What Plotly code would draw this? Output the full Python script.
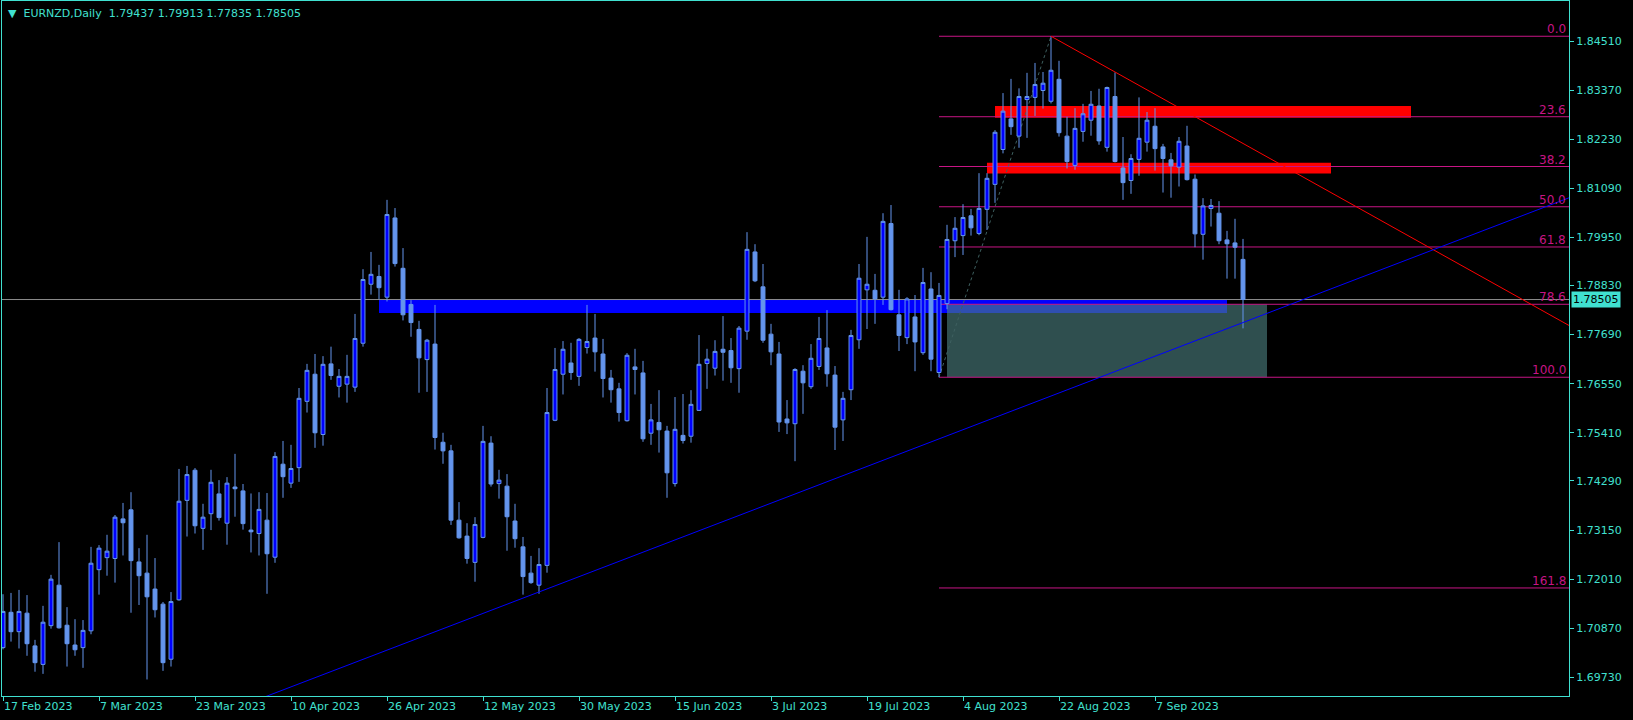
import plotly.graph_objects as go
import pandas as pd

symbol = "EURNZD"
timeframe = "Daily"

opens = [1.7042, 1.7124, 1.7079, 1.7122, 1.7046, 1.7003, 1.7093, 1.7187, 1.7094, 1.7048,
         1.7042, 1.7081, 1.7223, 1.7251, 1.7249, 1.7341, 1.7362, 1.7241, 1.7215, 1.7178,
         1.7143, 1.7015, 1.7153, 1.7384, 1.7454, 1.7319, 1.7353, 1.7399, 1.7331, 1.7415,
         1.7406, 1.7315, 1.7307, 1.7338, 1.7252, 1.7468, 1.7424, 1.7460, 1.7614, 1.7677,
         1.7537, 1.7701, 1.7649, 1.7654, 1.7647, 1.7749, 1.7886, 1.7904, 1.7856, 1.8040,
         1.7923, 1.7839, 1.7781, 1.7711, 1.7747, 1.7519, 1.7499, 1.7338, 1.7301, 1.7240,
         1.7298, 1.7517, 1.7423, 1.7417, 1.7336, 1.7276, 1.7215, 1.7187, 1.7233, 1.7570,
         1.7677, 1.7703, 1.7672, 1.7739, 1.7761, 1.7724, 1.7668, 1.7643, 1.7569, 1.7694,
         1.7680, 1.7540, 1.7565, 1.7545, 1.7423, 1.7535, 1.7533, 1.7593, 1.7702, 1.7691,
         1.7735, 1.7732, 1.7690, 1.7777, 1.7961, 1.7880, 1.7770, 1.7724, 1.7573, 1.7562,
         1.7684, 1.7648, 1.7695, 1.7738, 1.7675, 1.7571, 1.7641, 1.7757, 1.7873, 1.7872,
         1.7856, 1.8027, 1.7815, 1.7762, 1.7810, 1.7727, 1.7875, 1.7681, 1.7841, 1.7987,
         1.7999, 1.8045, 1.8004, 1.8060, 1.8118, 1.8199, 1.8270, 1.8230, 1.8315, 1.8320,
         1.8336, 1.8311, 1.8362, 1.8230, 1.8162, 1.8241, 1.8267, 1.8300, 1.8204, 1.8322,
         1.8156, 1.8127, 1.8176, 1.8216, 1.8253, 1.8205, 1.8175, 1.8158, 1.8207, 1.8130,
         1.8002, 1.8062, 1.8051, 1.7989, 1.7982, 1.79437]

highs = [1.7166, 1.7169, 1.7176, 1.7164, 1.7060, 1.7139, 1.7211, 1.7287, 1.7136, 1.7108,
         1.7106, 1.7276, 1.7280, 1.7304, 1.7350, 1.7378, 1.7403, 1.7273, 1.7304, 1.7250,
         1.7148, 1.7171, 1.7457, 1.7464, 1.7459, 1.7376, 1.7455, 1.7431, 1.7438, 1.7492,
         1.7422, 1.7400, 1.7403, 1.7401, 1.7496, 1.7522, 1.7513, 1.7645, 1.7701, 1.7724,
         1.7719, 1.7741, 1.7689, 1.7722, 1.7817, 1.7921, 1.7961, 1.7931, 1.8082, 1.8063,
         1.7970, 1.7849, 1.7801, 1.7759, 1.7838, 1.7541, 1.7513, 1.7380, 1.7331, 1.7345,
         1.7557, 1.7533, 1.7455, 1.7445, 1.7376, 1.7299, 1.7255, 1.7273, 1.7645, 1.7738,
         1.7754, 1.7750, 1.7761, 1.7838, 1.7817, 1.7759, 1.7687, 1.7657, 1.7726, 1.7736,
         1.7708, 1.7608, 1.7640, 1.7557, 1.7624, 1.7631, 1.7640, 1.7768, 1.7736, 1.7756,
         1.7812, 1.7761, 1.7789, 1.8007, 1.7979, 1.7933, 1.7794, 1.7752, 1.7617, 1.7691,
         1.7698, 1.7747, 1.7810, 1.7826, 1.7696, 1.7636, 1.7780, 1.7933, 1.7996, 1.7910,
         1.8051, 1.8070, 1.7873, 1.7856, 1.7861, 1.7924, 1.7914, 1.7889, 1.8024, 1.8042,
         1.8072, 1.8061, 1.8144, 1.8144, 1.8244, 1.8330, 1.8363, 1.8341, 1.8377, 1.8400,
         1.8379, 1.8462, 1.8405, 1.8275, 1.8295, 1.8305, 1.8335, 1.8340, 1.8345, 1.8378,
         1.8228, 1.8188, 1.8320, 1.8286, 1.8295, 1.8212, 1.8191, 1.8228, 1.8254, 1.8141,
         1.8086, 1.8084, 1.8079, 1.8010, 1.8038, 1.79913]

lows = [1.7038, 1.7056, 1.7040, 1.7023, 1.6986, 1.6981, 1.7086, 1.7086, 1.6998, 1.7023,
        1.6995, 1.7073, 1.7165, 1.7209, 1.7193, 1.7256, 1.7123, 1.7141, 1.6968, 1.7112,
        1.6988, 1.6998, 1.7151, 1.7300, 1.7307, 1.7269, 1.7315, 1.7337, 1.7281, 1.7346,
        1.7316, 1.7263, 1.7256, 1.7167, 1.7239, 1.7390, 1.7413, 1.7427, 1.7588, 1.7506,
        1.7511, 1.7664, 1.7623, 1.7611, 1.7636, 1.7741, 1.7862, 1.7851, 1.7846, 1.7927,
        1.7802, 1.7764, 1.7634, 1.7636, 1.7502, 1.7469, 1.7327, 1.7295, 1.7237, 1.7195,
        1.7296, 1.7416, 1.7388, 1.7267, 1.7274, 1.7165, 1.7190, 1.7167, 1.7216, 1.7568,
        1.7630, 1.7664, 1.7650, 1.7725, 1.7683, 1.7623, 1.7611, 1.7567, 1.7567, 1.7630,
        1.7520, 1.7513, 1.7495, 1.7390, 1.7416, 1.7516, 1.7518, 1.7592, 1.7643, 1.7674,
        1.7662, 1.7657, 1.7634, 1.7757, 1.7891, 1.7750, 1.7698, 1.7543, 1.7538, 1.7475,
        1.7585, 1.7643, 1.7687, 1.7648, 1.7501, 1.7522, 1.7617, 1.7736, 1.7782, 1.7794,
        1.7838, 1.7825, 1.7731, 1.7747, 1.7684, 1.7722, 1.7684, 1.7670, 1.7828, 1.7949,
        1.7954, 1.7999, 1.8000, 1.8012, 1.8075, 1.8190, 1.8233, 1.8203, 1.8226, 1.8277,
        1.8294, 1.8306, 1.8229, 1.8155, 1.8152, 1.8217, 1.8231, 1.8210, 1.8194, 1.8169,
        1.8082, 1.8096, 1.8138, 1.8194, 1.8150, 1.8099, 1.8087, 1.8113, 1.8127, 1.7972,
        1.7943, 1.8020, 1.7979, 1.7899, 1.7899, 1.77835]

closes = [1.7126, 1.7079, 1.7126, 1.7051, 1.7007, 1.7101, 1.7201, 1.7088, 1.7051, 1.7037,
          1.7082, 1.7238, 1.7273, 1.7266, 1.7345, 1.7332, 1.7244, 1.7209, 1.7160, 1.7130,
          1.7007, 1.7149, 1.7382, 1.7444, 1.7325, 1.7345, 1.7426, 1.7344, 1.7424, 1.7411,
          1.7330, 1.7311, 1.7363, 1.7260, 1.7486, 1.7439, 1.7458, 1.7621, 1.7686, 1.7541,
          1.7700, 1.7674, 1.7672, 1.7672, 1.7760, 1.7897, 1.7909, 1.7878, 1.8048, 1.7934,
          1.7815, 1.7797, 1.7715, 1.7756, 1.7530, 1.7499, 1.7338, 1.7297, 1.7249, 1.7328,
          1.7521, 1.7422, 1.7431, 1.7346, 1.7295, 1.7207, 1.7193, 1.7235, 1.7588, 1.7688,
          1.7735, 1.7681, 1.7758, 1.7753, 1.7729, 1.7667, 1.7641, 1.7588, 1.7721, 1.7688,
          1.7527, 1.7571, 1.7548, 1.7448, 1.7549, 1.7523, 1.7607, 1.7700, 1.7712, 1.7730,
          1.7728, 1.7692, 1.7784, 1.7967, 1.7894, 1.7756, 1.7729, 1.7566, 1.7564, 1.7688,
          1.7657, 1.7714, 1.7760, 1.7678, 1.7554, 1.7621, 1.7767, 1.7900, 1.7886, 1.7852,
          1.8032, 1.7827, 1.7767, 1.7852, 1.7752, 1.7890, 1.7712, 1.7860, 1.7990, 1.8016,
          1.8041, 1.8017, 1.8062, 1.8132, 1.8239, 1.8288, 1.8252, 1.8322, 1.8322, 1.8350,
          1.8353, 1.8383, 1.8238, 1.8171, 1.8248, 1.8282, 1.8304, 1.8219, 1.8343, 1.8171,
          1.8122, 1.8178, 1.8225, 1.8267, 1.8201, 1.8178, 1.8161, 1.8218, 1.8129, 1.8003,
          1.8068, 1.8069, 1.7987, 1.7980, 1.7972, 1.78505]

dates = pd.bdate_range("2023-02-17", periods=len(closes))
bars = list(range(len(closes)))

x_tick_dates = ["2023-02-17", "2023-03-07", "2023-03-23", "2023-04-10", "2023-04-26",
                "2023-05-12", "2023-05-30", "2023-06-15", "2023-07-03", "2023-07-19",
                "2023-08-04", "2023-08-22", "2023-09-07"]
x_tick_labels = ["17 Feb 2023", "7 Mar 2023", "23 Mar 2023", "10 Apr 2023", "26 Apr 2023",
                 "12 May 2023", "30 May 2023", "15 Jun 2023", "3 Jul 2023", "19 Jul 2023",
                 "4 Aug 2023", "22 Aug 2023", "7 Sep 2023"]
y_tick_values = [1.84510, 1.83370, 1.82230, 1.81090, 1.79950, 1.78830, 1.77690,
                 1.76550, 1.75410, 1.74290, 1.73150, 1.72010, 1.70870, 1.69730]

# Fibonacci retracement (from the swing low bar to the swing high bar)
fib_low_bar = 117
fib_high_bar = 131
fib_ratios = [0.0, 0.236, 0.382, 0.5, 0.618, 0.786, 1.0, 1.618]
fib_labels = ["0.0", "23.6", "38.2", "50.0", "61.8", "78.6", "100.0", "161.8"]

# zones: (start bar, end bar, top price, bottom price)
support_zone = (47, 153, 1.7851, 1.7819)
resistance_zones = [(124, 176, 1.8300, 1.8273), (123, 166, 1.8168, 1.8143)]
fib_box_end_bar = 158

# trend lines: two anchor points (bar, price)
down_trend = ((131, 1.8462), (139, 1.8379))
up_trend = ((65, 1.7157), (155, 1.7797))

x_range = [-0.125, 195.75]
y_range = [1.69296, 1.85439]

AXIS = "#40E0D0"
FIB = "#C71585"
FONT = "DejaVu Sans"

fig = go.Figure()

fig.add_trace(go.Candlestick(
    x=bars, open=opens, high=highs, low=lows, close=closes,
    text=[d.strftime("%Y.%m.%d") for d in dates], hoverinfo="x+y+text",
    increasing=dict(line=dict(color="#6495ED", width=1), fillcolor="#0000FF"),
    decreasing=dict(line=dict(color="#6495ED", width=1), fillcolor="#6495ED"),
    whiskerwidth=0, showlegend=False,
))

shapes = []
# support zone (blue)
s0, s1, st, sb = support_zone
shapes.append(dict(type="rect", xref="x", yref="y", x0=s0, x1=s1, y0=sb, y1=st,
                   fillcolor="#0000FF", line=dict(width=0), layer="below"))

hi = highs[fib_high_bar]
lo = lows[fib_low_bar]
fib_prices = [hi - r * (hi - lo) for r in fib_ratios]
box_top = fib_prices[fib_ratios.index(0.786)]
box_bot = fib_prices[fib_ratios.index(1.0)]
box_x0 = fib_low_bar + 1
shapes.append(dict(type="rect", xref="x", yref="y", x0=box_x0, x1=fib_box_end_bar,
                   y0=box_bot, y1=box_top, fillcolor="#2F4F4F", line=dict(width=0), layer="below"))
# overlap of support zone and fib box
ox0, ox1 = max(s0, box_x0), min(s1, fib_box_end_bar)
oy0, oy1 = max(sb, box_bot), min(st, box_top)
if ox1 > ox0 and oy1 > oy0:
    shapes.append(dict(type="rect", xref="x", yref="y", x0=ox0, x1=ox1, y0=oy0, y1=oy1,
                       fillcolor="#2F4FB0", line=dict(width=0), layer="below"))
for (r0, r1, rt, rb) in resistance_zones:
    shapes.append(dict(type="rect", xref="x", yref="y", x0=r0, x1=r1, y0=rb, y1=rt,
                       fillcolor="#FF0000", line=dict(width=0), layer="below"))
# current price line
shapes.append(dict(type="line", xref="x", yref="y", x0=x_range[0], x1=x_range[1],
                   y0=closes[-1], y1=closes[-1], line=dict(color="#8C8C8C", width=1), layer="below"))
# fib levels
for p in fib_prices:
    shapes.append(dict(type="line", xref="x", yref="y", x0=fib_low_bar, x1=x_range[1],
                       y0=p, y1=p, line=dict(color=FIB, width=1), layer="below"))
shapes.append(dict(type="line", xref="x", yref="y", x0=fib_low_bar, x1=fib_high_bar,
                   y0=lo, y1=hi, line=dict(color="#3E6060", width=1, dash="dot"), layer="below"))


def ray(a, b, x_start, x_end):
    (xa, ya), (xb, yb) = a, b
    k = (yb - ya) / (xb - xa)
    return x_start, ya + k * (x_start - xa), x_end, ya + k * (x_end - xa)


x0, y0, x1, y1 = ray(*down_trend, down_trend[0][0], x_range[1])
shapes.append(dict(type="line", xref="x", yref="y", x0=x0, y0=y0, x1=x1, y1=y1,
                   line=dict(color="#FF0000", width=1)))
x0, y0, x1, y1 = ray(*up_trend, x_range[0], x_range[1])
shapes.append(dict(type="line", xref="x", yref="y", x0=x0, y0=y0, x1=x1, y1=y1,
                   line=dict(color="#0000FF", width=1)))

annotations = []
for p, lab in zip(fib_prices, fib_labels):
    annotations.append(dict(xref="paper", yref="y", x=1, y=p, text=lab, showarrow=False,
                            xanchor="right", yanchor="bottom", xshift=-1, yshift=-2,
                            font=dict(family=FONT, size=12, color=FIB)))
annotations.append(dict(xref="paper", yref="y", x=1, y=closes[-1], text=f"{closes[-1]:.5f}",
                        showarrow=False, xanchor="left", yanchor="middle", xshift=2,
                        bgcolor=AXIS, borderpad=1, font=dict(family=FONT, size=11, color="#000000")))
header = (f"\u25BC  {symbol},{timeframe}\u00a0\u00a0{opens[-1]:.5f} {highs[-1]:.5f} "
          f"{lows[-1]:.5f} {closes[-1]:.5f}")
annotations.append(dict(xref="paper", yref="paper", x=0, y=1, text=header, showarrow=False,
                        xanchor="left", yanchor="top", xshift=4, yshift=-4,
                        font=dict(family=FONT, size=11, color=AXIS)))

tick_pos = [bars[list(dates.strftime("%Y-%m-%d")).index(d)] for d in x_tick_dates]

fig.update_layout(
    width=1633, height=720,
    margin=dict(l=2, r=64, t=1, b=24),
    paper_bgcolor="#000000", plot_bgcolor="#000000",
    shapes=shapes, annotations=annotations,
    showlegend=False, hovermode="closest",
    font=dict(family=FONT, size=11, color=AXIS),
    xaxis=dict(range=x_range, tickvals=tick_pos, ticktext=x_tick_labels,
               ticks="outside", ticklen=4, tickcolor=AXIS, ticklabelposition="outside right",
               showgrid=False, zeroline=False, showline=True, linecolor=AXIS, linewidth=1,
               mirror=True, rangeslider=dict(visible=False), fixedrange=True,
               tickfont=dict(family=FONT, size=11, color=AXIS)),
    yaxis=dict(range=y_range, side="right", tickvals=y_tick_values,
               ticktext=[f"{v:.5f}" for v in y_tick_values],
               ticks="outside", ticklen=4, tickcolor=AXIS,
               showgrid=False, zeroline=False, showline=True, linecolor=AXIS, linewidth=1,
               mirror=True, fixedrange=True,
               tickfont=dict(family=FONT, size=11, color=AXIS)),
)

fig.write_html("out.html", config={"displayModeBar": False},
               post_script="document.body.style.margin='0';document.body.style.overflow='hidden';")
